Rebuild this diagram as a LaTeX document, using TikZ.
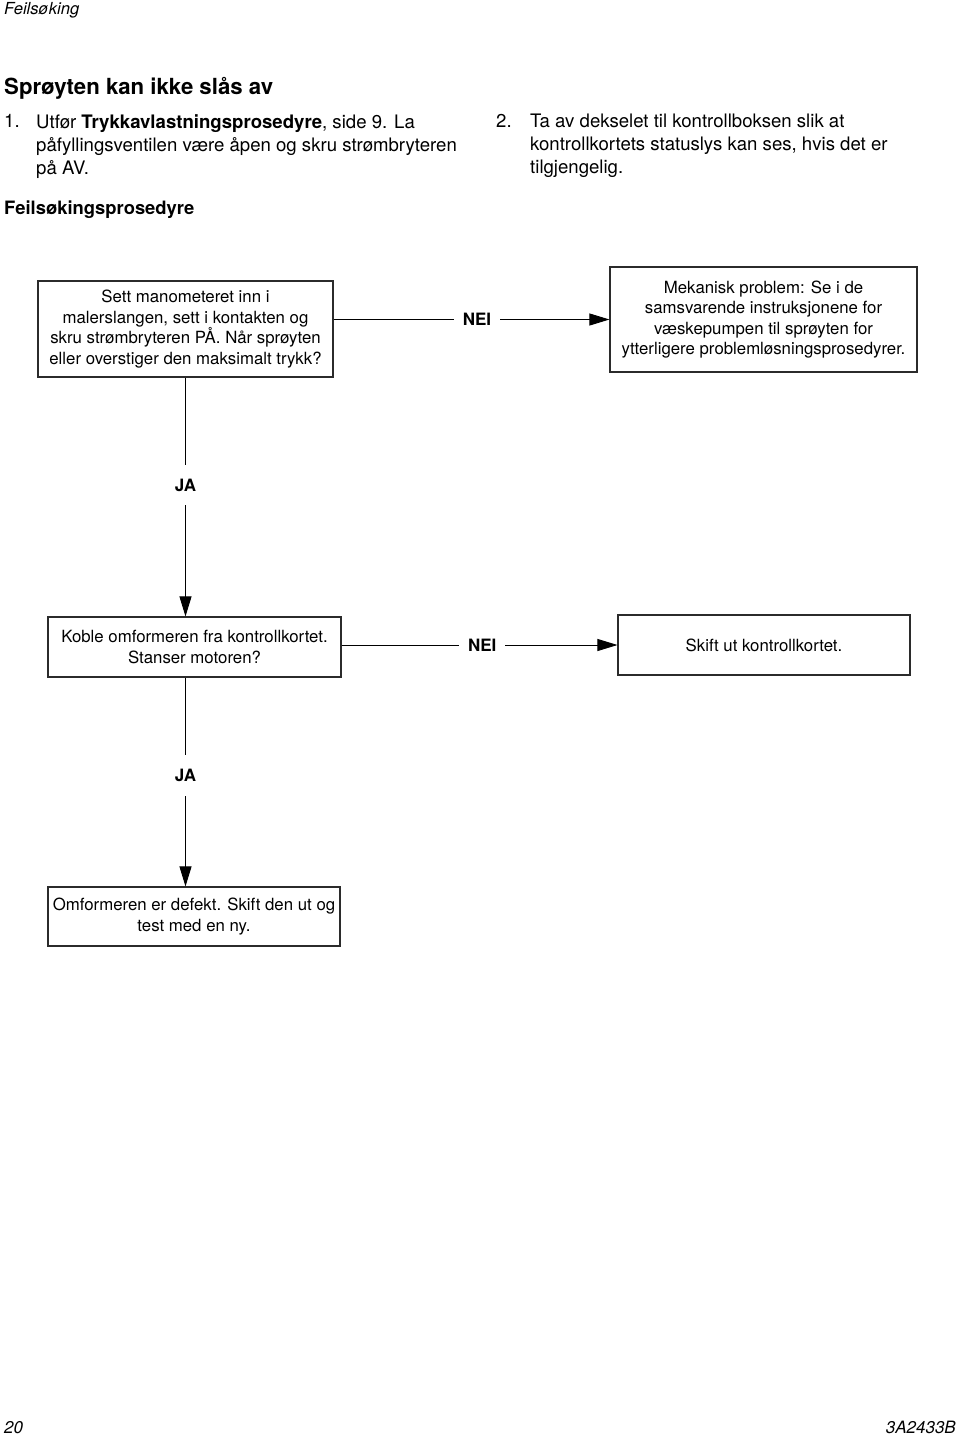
\documentclass[tikz,border=0pt]{standalone}
\usepackage{fontspec}
\setmainfont{TeX Gyre Heros}
\usepackage{xcolor}
\usepackage{tikz}
\usetikzlibrary{arrows.meta, positioning}
\definecolor{boxline}{HTML}{2B2B2B}

\begin{document}
\begin{tikzpicture}[x=1pt, y=-1pt,
    stepbox/.style={draw=boxline, line width=1.1pt, align=center, inner sep=0pt,
        font=\fontsize{16.8}{20.5}\selectfont},
    flow/.style={-{Triangle[length=20pt, width=12pt]}, line width=0.9pt},
    answer/.style={fill=white, inner xsep=9pt, inner ysep=14pt,
        font=\fontsize{17}{17}\selectfont\bfseries}]
    \useasboundingbox (0,0) rectangle (960,1438);

    % Page header and steps
    \node[anchor=base west, inner sep=0pt, font=\fontsize{16.6}{17}\selectfont\itshape] (runninghead) at (4,14) {Feilsøking};
    \node[anchor=base west, inner sep=0pt, font=\fontsize{22.2}{22}\selectfont\bfseries] (title) at (4,94) {Sprøyten kan ikke slås av};
    \node[anchor=base west, inner sep=0pt, font=\fontsize{18.6}{23}\selectfont] (numone) at (4,127.5) {1.};
    \node[anchor=north west, inner sep=0pt, align=left, font=\fontsize{18.6}{23}\selectfont] (stepone) at (36,114)
        {Utfør \textbf{Trykkavlastningsprosedyre}, side 9. La\\påfyllingsventilen være åpen og skru strømbryteren\\på AV.};
    \node[anchor=base west, inner sep=0pt, font=\fontsize{18.6}{23}\selectfont] (numtwo) at (496,127.5) {2.};
    \node[anchor=north west, inner sep=0pt, align=left, font=\fontsize{18.6}{23}\selectfont] (steptwo) at (530,114)
        {Ta av dekselet til kontrollboksen slik at\\kontrollkortets statuslys kan ses, hvis det er\\tilgjengelig.};
    \node[anchor=base west, inner sep=0pt, font=\fontsize{18.4}{18}\selectfont\bfseries] (procedure) at (4,214.5) {Feilsøkingsprosedyre};

    % Flow chart boxes
    \node[stepbox, minimum width=295pt, minimum height=96pt] (qpressure) at (185.5,329)
        {Sett manometeret inn i\\malerslangen, sett i kontakten og\\skru strømbryteren PÅ. Når sprøyten\\eller overstiger den maksimalt trykk?};
    \node[stepbox, minimum width=307pt, minimum height=105pt] (mechanical) at (763.5,319.5)
        {Mekanisk problem: Se i de\\samsvarende instruksjonene for\\væskepumpen til sprøyten for\\ytterligere problemløsningsprosedyrer.};
    \node[stepbox, minimum width=293pt, minimum height=60pt] (qmotor) at (194.5,647)
        {Koble omformeren fra kontrollkortet.\\Stanser motoren?};
    \node[stepbox, minimum width=292pt, minimum height=60pt] (replaceboard) at (764,645)
        {Skift ut kontrollkortet.};
    \node[stepbox, minimum width=292pt, minimum height=59pt] (converterbad) at (194,916.5)
        {Omformeren er defekt. Skift den ut og\\test med en ny.};

    % Answers
    \draw[flow] (qpressure.east |- mechanical.west) -- node[answer, pos=0.52] {NEI} (mechanical.west);
    \draw[flow] (qmotor.east |- replaceboard.west) -- node[answer, pos=0.51] {NEI} (replaceboard.west);
    \draw[flow] (qpressure.south) -- node[answer, pos=0.45] {JA} (qpressure.south |- qmotor.north);
    \draw[flow] (qpressure.south |- qmotor.south) -- node[answer, pos=0.47] {JA} (qpressure.south |- converterbad.north);

    % Footer
    \node[anchor=base west, inner sep=0pt, font=\fontsize{17}{17}\selectfont\itshape] (pagenum) at (4,1433) {20};
    \node[anchor=base east, inner sep=0pt, font=\fontsize{17}{17}\selectfont\itshape] (docnum) at (956,1433) {3A2433B};
\end{tikzpicture}
\end{document}
